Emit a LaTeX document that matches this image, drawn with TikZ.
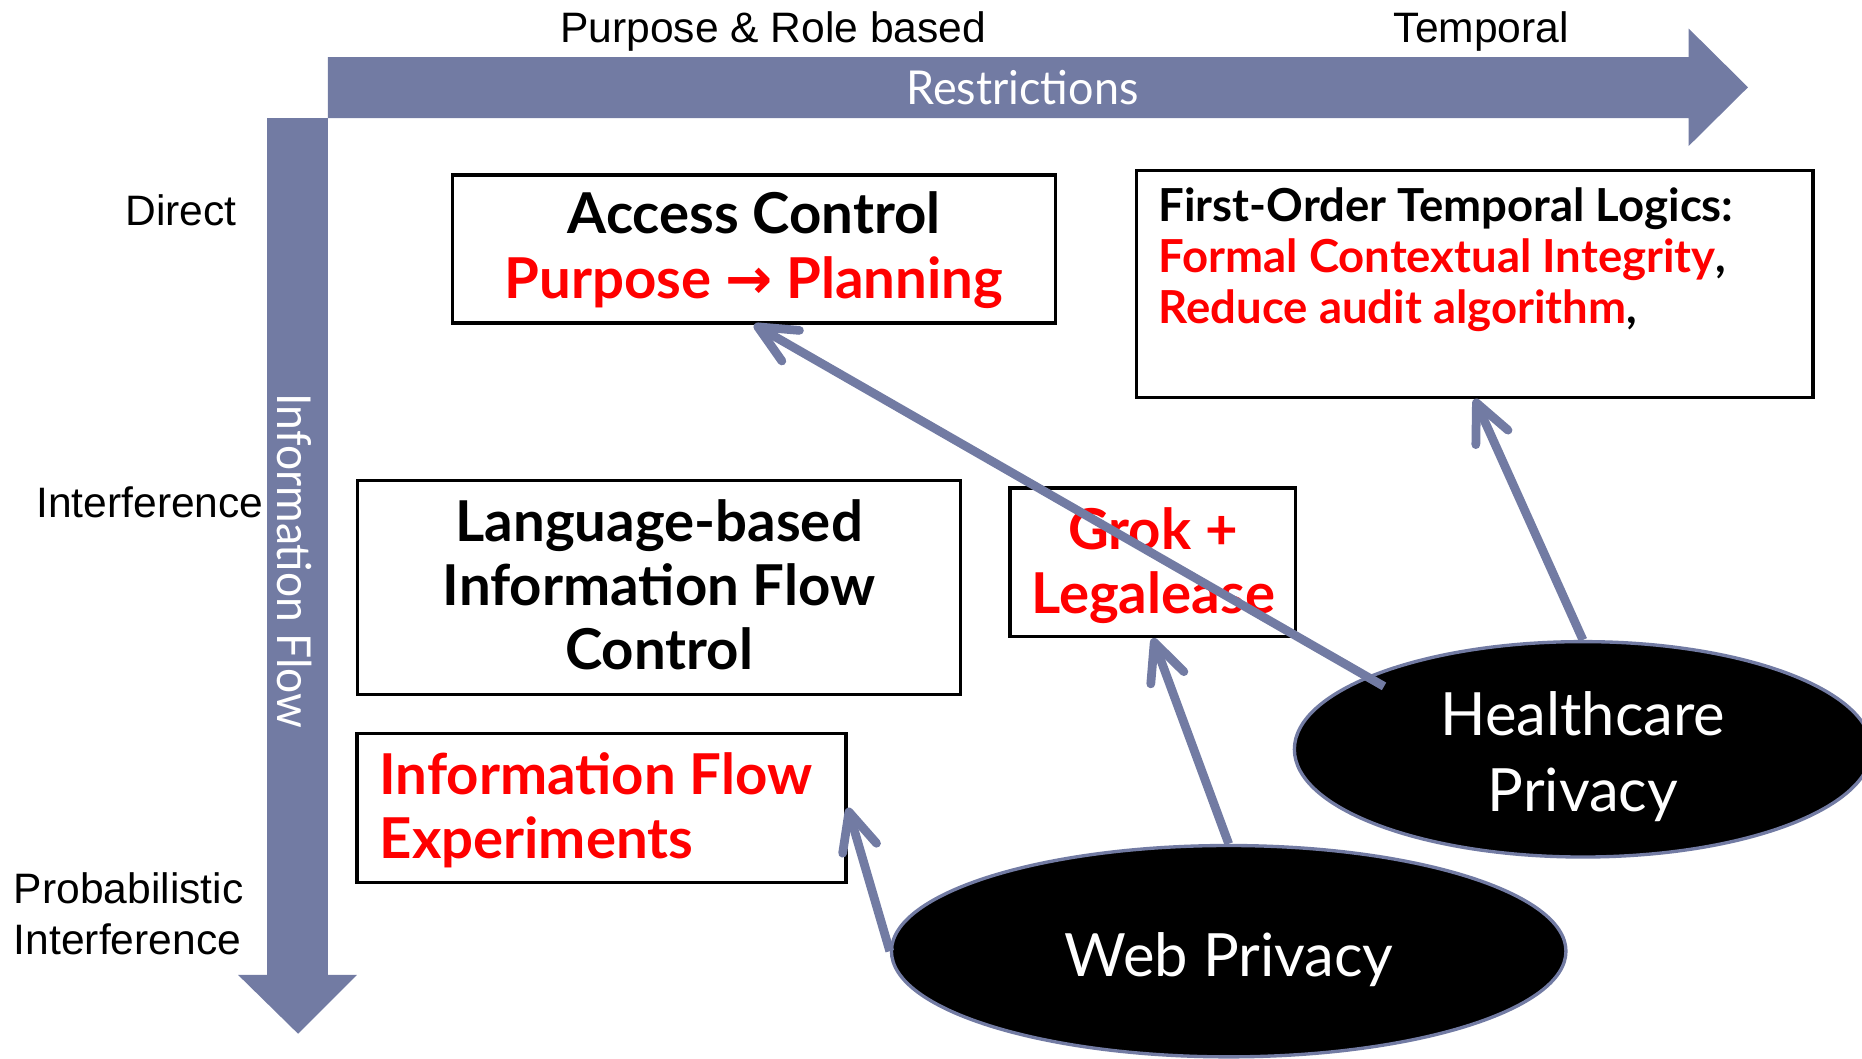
\documentclass[tikz,border=0pt]{standalone}
\usepackage{fontspec}
\setmainfont{Liberation Sans}
\newfontfamily\gill{Lato}
\newfontfamily\symfont{DejaVu Sans}
\usetikzlibrary{shapes.geometric,arrows.meta,calc}
\definecolor{slate}{RGB}{114,123,163}
\definecolor{hot}{RGB}{255,0,0}
\begin{document}
\begin{tikzpicture}[x=0.1mm,y=-0.1mm,
  axislabel/.style={text=white, inner sep=0pt, font=\gill\fontsize{11.2pt}{13pt}\selectfont},
  tick/.style={inner sep=0pt, font=\fontsize{10.2pt}{12.2pt}\selectfont, align=left},
  pbox/.style={draw=black, line width=0.8pt, inner sep=0pt},
  boxtext/.style={inner sep=0pt, align=center, font=\gill\bfseries\fontsize{13.5pt}{15.4pt}\selectfont},
  fotltext/.style={inner sep=0pt, align=left, font=\gill\bfseries\fontsize{10.9pt}{12.2pt}\selectfont},
  bubble/.style={ellipse, fill=black, draw=slate, line width=0.8pt, inner sep=0pt},
  bubbletext/.style={inner sep=0pt, align=center, text=white, font=\gill\fontsize{14.3pt}{18.35pt}\selectfont},
  link/.style={draw=slate, line width=2.1pt, -{Straight Barb[angle=50:10pt, round]}}]
\useasboundingbox (0,0) rectangle (1568,891);

% axis arrows
\fill[slate] (276,48) -- (1422,48) -- (1422,24) -- (1472,73.5) -- (1422,123) -- (1422,99.5) -- (276,99.5) -- cycle;
\fill[slate] (225,99.5) -- (276,99.5) -- (276,821) -- (300.5,821) -- (251,870.5) -- (200.5,821) -- (225,821) -- cycle;
\node[axislabel] (restr) at (861,74) {\scalebox{0.96}[1]{Restrictions}};
\node[axislabel, rotate=-90] (iflow) at (248,472.5) {\scalebox{0.95}[1]{Information Flow}};

% axis ticks (multi-line nodes are anchored on their last baseline)
\node[tick, anchor=base west] (purpose) at (471,36) {Purpose \& Role based};
\node[tick, anchor=base west] (temporal) at (1173,36) {Temporal};
\node[tick, anchor=base west] (direct) at (105,190) {Direct};
\node[tick, anchor=base west] (interf) at (30,436) {Interference};
\node[tick, anchor=base west] (prob) at (11,804) {Probabilistic\\Interference};

% boxes
\node[pbox, minimum width=50.8mm, minimum height=12.46mm] (ac) at (635,209.7) {};
\node[pbox, minimum width=56.96mm, minimum height=19.08mm] (fotl) at (1241.8,239.1) {};
\node[pbox, minimum width=50.82mm, minimum height=18.02mm] (lb) at (554.9,494.9) {};
\node[pbox, minimum width=24.05mm, minimum height=12.5mm] (grok) at (970.7,473.5) {};
\node[pbox, minimum width=41.17mm, minimum height=12.55mm] (ife) at (506.6,680.2) {};

\node[boxtext, anchor=base] (ac-t) at (635,251) {Access Control\\\textcolor{hot}{Purpose {\symfont →} Planning}};
\node[fotltext, anchor=base west] (fotl-t) at (975,272) {First-Order Temporal Logics:\\\textcolor{hot}{Formal Contextual Integrity},\\\textcolor{hot}{Reduce audit algorithm},};
\node[boxtext, anchor=base] (lb-t) at (555,564) {Language-based\\Information Flow\\Control};
\node[boxtext, anchor=base, text=hot] (grok-t) at (971,517) {Grok +\\Legalease};
\node[boxtext, anchor=base west, align=left, text=hot] (ife-t) at (319,723) {Information Flow\\Experiments};

% application areas
\node[bubble, minimum width=48.6mm, minimum height=18.14mm] (hc) at (1333,631) {};
\node[bubble, minimum width=56.8mm, minimum height=17.8mm] (web) at (1034.7,801) {};
\node[bubbletext, anchor=base] (hc-t) at (1333,683.5) {Healthcare\\Privacy};
\node[bubbletext, anchor=base] (web-t) at (1035,822) {Web Privacy};

% connectors
\coordinate (hc-in) at ($(hc.center)+(-167.5,-53)$);
\draw[link] (hc-in) -- (ac.south);
\draw[link] (hc.north) -- (fotl.south);
\draw[link] (web.north) -- (grok.south);
\draw[link] (web.west) -- (ife.east);
\end{tikzpicture}
\end{document}
